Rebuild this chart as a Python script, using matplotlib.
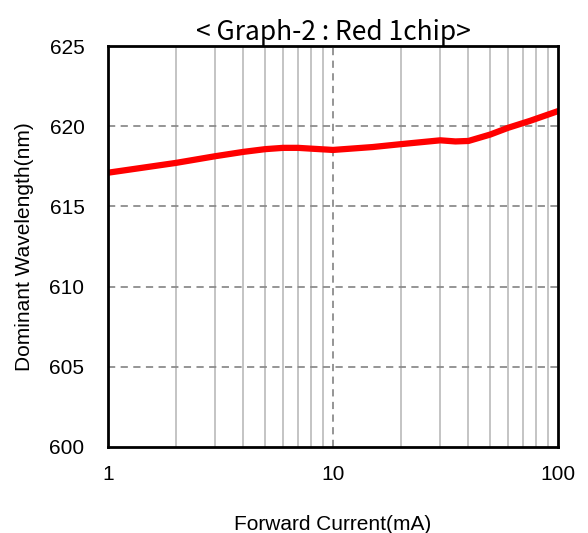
import matplotlib.pyplot as plt
from matplotlib.ticker import FixedLocator, NullFormatter

# forward current (mA) and dominant wavelength (nm)
current_ma = [1, 2, 3, 4, 5, 6, 7, 8, 10, 15, 20, 30, 35, 40, 50, 60, 75, 100]
wavelength_nm = [617.1, 617.71, 618.13, 618.40, 618.57, 618.65, 618.65, 618.60,
                 618.52, 618.70, 618.88, 619.12, 619.05, 619.08, 619.48,
                 619.90, 620.33, 620.94]

x_ticks = [1, 10, 100]
x_tick_labels = ["1", "10", "100"]
y_ticks = [600, 605, 610, 615, 620, 625]

plt.rcParams["font.family"] = ["Liberation Sans", "DejaVu Sans"]

fig = plt.figure(figsize=(5.88, 5.33), dpi=100)
ax = fig.add_axes([108 / 588, 1 - 447 / 533, 450 / 588, 401 / 533])

# grid first so the curve sits on top
minor = [m * d for d in (1, 10) for m in range(2, 10)]
for xv in minor:
    ax.axvline(xv, color="#bfbfbf", lw=1.3, zorder=1)
ax.axvline(10, color="#8c8c8c", lw=1.3, ls=(0, (4, 3)), zorder=1)
for yv in y_ticks[1:-1]:
    ax.axhline(yv, color="#8c8c8c", lw=1.3, ls=(0, (4, 3)), zorder=1)

ax.plot(current_ma, wavelength_nm, color="#ff0000", lw=4.5,
        solid_capstyle="round", solid_joinstyle="round", zorder=3)

ax.set_xscale("log")
ax.set_xlim(1, 100)
ax.set_ylim(600, 625)
ax.xaxis.set_major_locator(FixedLocator(x_ticks))
ax.xaxis.set_minor_locator(FixedLocator([]))
ax.xaxis.set_minor_formatter(NullFormatter())
ax.set_xticks(x_ticks, x_tick_labels)
ax.set_yticks(y_ticks)
ax.tick_params(axis="both", length=0, labelsize=15)
ax.tick_params(axis="y", pad=17)
ax.tick_params(axis="x", pad=13)

for sp in ax.spines.values():
    sp.set_linewidth(2)
    sp.set_color("black")
    sp.set_zorder(4)

ax.set_xlabel("Forward Current(mA)", fontsize=15, labelpad=22)
ax.set_ylabel("Dominant Wavelength(nm)", fontsize=15, labelpad=11)
ax.set_title("< Graph-2 : Red 1chip>", fontsize=19, pad=3,
             fontfamily=["Noto Sans CJK KR", "DejaVu Sans"])

fig.savefig("out.png", dpi=100)
